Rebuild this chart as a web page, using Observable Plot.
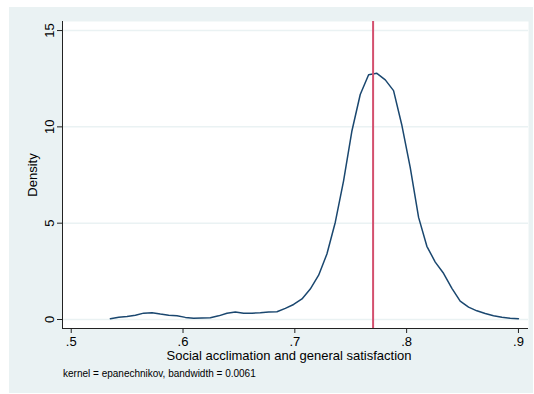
<!DOCTYPE html>
<html>
<head>
<meta charset="utf-8">
<script src="https://cdn.jsdelivr.net/npm/d3@7"></script>
<script src="https://cdn.jsdelivr.net/npm/@observablehq/plot@0.6"></script>
<style>
  html, body { margin: 0; padding: 0; background: #fff; }
  #wrap { position: relative; width: 534px; height: 394px; overflow: hidden;
          font-family: "Liberation Sans", Arial, Helvetica, sans-serif; color: #000; }
  #bg { position: absolute; left: 9px; top: 7px; width: 524px; height: 386px; background: #eaf2f3; }
  #chart { position: absolute; left: 0; top: 0; }
  .lbl { position: absolute; white-space: nowrap; line-height: 1; }
</style>
</head>
<body>
<div id="wrap">
  <div id="bg"></div>
  <div id="chart"></div>
  <div class="lbl" id="xlabel" style="font-size:13px; left:289px; top:349px; transform: translateX(-50%);">Social acclimation and general satisfaction</div>
  <div class="lbl" id="ylabel" style="font-size:13px; left:32px; top:174.5px; transform: translate(-50%,-50%) rotate(-90deg);">Density</div>
  <div class="lbl" id="caption" style="font-size:10px; left:63px; top:369px;">kernel = epanechnikov, bandwidth = 0.0061</div>
</div>
<script>
// Kernel density estimate (evaluation points and densities)
const xValues = [0.535, 0.5425, 0.5499, 0.5574, 0.5648, 0.5723, 0.5797, 0.5872, 0.5946, 0.6021,
  0.6095, 0.617, 0.6244, 0.6319, 0.6393, 0.6468, 0.6542, 0.6617, 0.6691, 0.6766,
  0.684, 0.6915, 0.6989, 0.7064, 0.7138, 0.7213, 0.7287, 0.7362, 0.7436, 0.7511,
  0.7585, 0.766, 0.7734, 0.7809, 0.7883, 0.7958, 0.8032, 0.8107, 0.8181, 0.8256,
  0.833, 0.8405, 0.8479, 0.8554, 0.8628, 0.8703, 0.8777, 0.8852, 0.8926, 0.9];
const densityValues = [0.04, 0.12, 0.16, 0.22, 0.33, 0.35, 0.28, 0.22, 0.19, 0.11,
  0.07, 0.08, 0.09, 0.19, 0.32, 0.39, 0.33, 0.33, 0.35, 0.39,
  0.40, 0.58, 0.78, 1.07, 1.58, 2.3, 3.4, 5.05, 7.2, 9.8,
  11.68, 12.71, 12.78, 12.44, 11.88, 10.07, 7.9, 5.3, 3.8, 2.98,
  2.4, 1.62, 0.95, 0.64, 0.45, 0.31, 0.2, 0.12, 0.07, 0.04];
const meanLine = [0.770];
const xTicks = [0.5, 0.6, 0.7, 0.8, 0.9];
const xTickLabels = [".5", ".6", ".7", ".8", ".9"];
const yTicks = [0, 5, 10, 15];
const yTickLabels = ["0", "5", "10", "15"];

const data = xValues.map((x, i) => ({x, d: densityValues[i]}));
const xDomain = [0.4922, 0.909];
const yDomain = [-0.467, 15.47];

const chart = Plot.plot({
  width: 534,
  height: 394,
  marginLeft: 62,
  marginRight: 6,
  marginTop: 21,
  marginBottom: 66,
  style: {background: "transparent", color: "#000", fontFamily: "'Liberation Sans', Arial, sans-serif", fontSize: "13px", overflow: "visible"},
  x: {domain: xDomain},
  y: {domain: yDomain},
  marks: [
    Plot.frame({fill: "#fff", stroke: null}),
    Plot.ruleY(yTicks, {stroke: "#eaf2f3", strokeWidth: 1.5}),
    Plot.line(data, {x: "x", y: "d", stroke: "#1a476f", strokeWidth: 1.5}),
    Plot.ruleX(meanLine, {stroke: "#d4506e", strokeWidth: 2}),
    Plot.ruleX([xDomain[0]], {stroke: "#222", strokeWidth: 1}),
    Plot.ruleY([yDomain[0]], {stroke: "#222", strokeWidth: 1}),
    Plot.axisX({ticks: xTicks, tickFormat: (d) => xTickLabels[xTicks.indexOf(d)], tickSize: 5, tickPadding: 3, label: null, fontSize: 13, stroke: "#222"}),
    Plot.axisY({ticks: yTicks, tickFormat: (d) => yTickLabels[yTicks.indexOf(d)], tickSize: 5, tickPadding: 4, tickRotate: -90, label: null, fontSize: 13, stroke: "#222"})
  ]
});
document.getElementById("chart").appendChild(chart);
</script>
</body>
</html>
